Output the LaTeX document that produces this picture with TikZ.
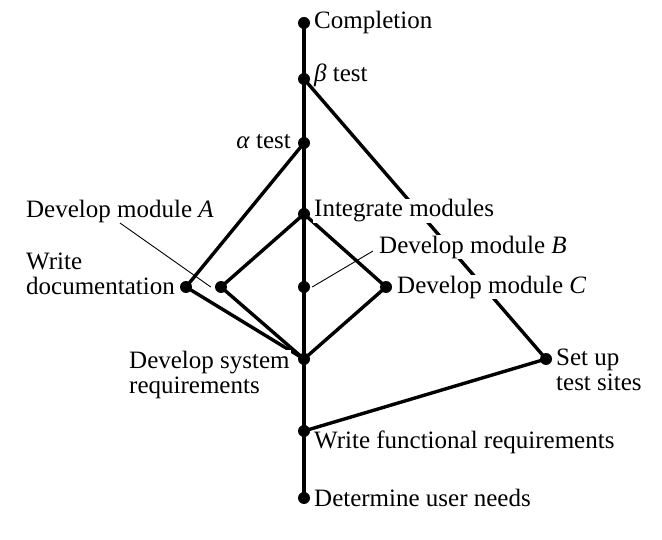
\documentclass[tikz,border=0pt]{standalone}
\usepackage{fontspec}
\setmainfont{Liberation Serif}
\usetikzlibrary{backgrounds}
\begin{document}
\begin{tikzpicture}[x=1pt,y=-1pt,
  dot/.style={circle,fill=black,inner sep=0pt,minimum size=12pt},
  lbl/.style={fill=white,inner sep=1pt,font=\fontsize{25}{25}\selectfont,align=left},
  edge/.style={line width=3.4pt},
  leader/.style={line width=0.9pt}]
\useasboundingbox (0,0) rectangle (662,540);
% dots
\node[dot] (comp) at (304,23) {};
\node[dot] (beta) at (304,79) {};
\node[dot] (alpha) at (304,143) {};
\node[dot] (integ) at (304,214) {};
\node[dot] (modB) at (304,287) {};
\node[dot] (modA) at (221,287) {};
\node[dot] (doc) at (186,287) {};
\node[dot] (modC) at (386,287) {};
\node[dot] (dsr) at (304,359) {};
\node[dot] (sites) at (546,359) {};
\node[dot] (wfr) at (304,431) {};
\node[dot] (dun) at (304,498) {};
% labels
\node[lbl,anchor=west] (compL) at (313,22) {Completion};
\node[lbl,anchor=west] (betaL) at (313,75) {\textit{β} test};
\node[lbl,anchor=east] (alphaL) at (292,142) {\textit{α} test};
\node[lbl,anchor=west] (integL) at (313,211) {Integrate modules};
\node[lbl,anchor=west] (modBL) at (378,247) {Develop module \textit{B}};
\node[lbl,anchor=west] (modCL) at (396,287) {Develop module \textit{C}};
\node[lbl,anchor=west] (sitesL) at (555,370) {Set up\\test sites};
\node[lbl,anchor=west] (wfrL) at (313,442) {Write functional requirements};
\node[lbl,anchor=west] (dunL) at (313,498) {Determine user needs};
\node[lbl,anchor=west] (dsrL) at (128,375) {Develop system\\requirements};
\node[lbl,anchor=west] (docL) at (25,274) {Write\\documentation};
\node[lbl,anchor=west] (modAL) at (25,211) {Develop module \textit{A}};
\coordinate (modAlead) at (120,223);
\coordinate (modBlead) at (373,251);
\draw[leader] (modAlead) -- ([xshift=-4pt]modA.west);
\draw[leader] (modBlead) -- ([xshift=2pt]modB.east);
\begin{scope}[on background layer]
  \draw[edge] (comp.center) -- (dun.center);
  \draw[edge] (beta.center) -- (sites.center);
  \draw[edge] (sites.center) -- (wfr.center);
  \draw[edge] (alpha.center) -- (doc.center) -- (dsr.center);
  \draw[edge] (integ.center) -- (modA.center) -- (dsr.center);
  \draw[edge] (integ.center) -- (modC.center) -- (dsr.center);
\end{scope}
\end{tikzpicture}
\end{document}
